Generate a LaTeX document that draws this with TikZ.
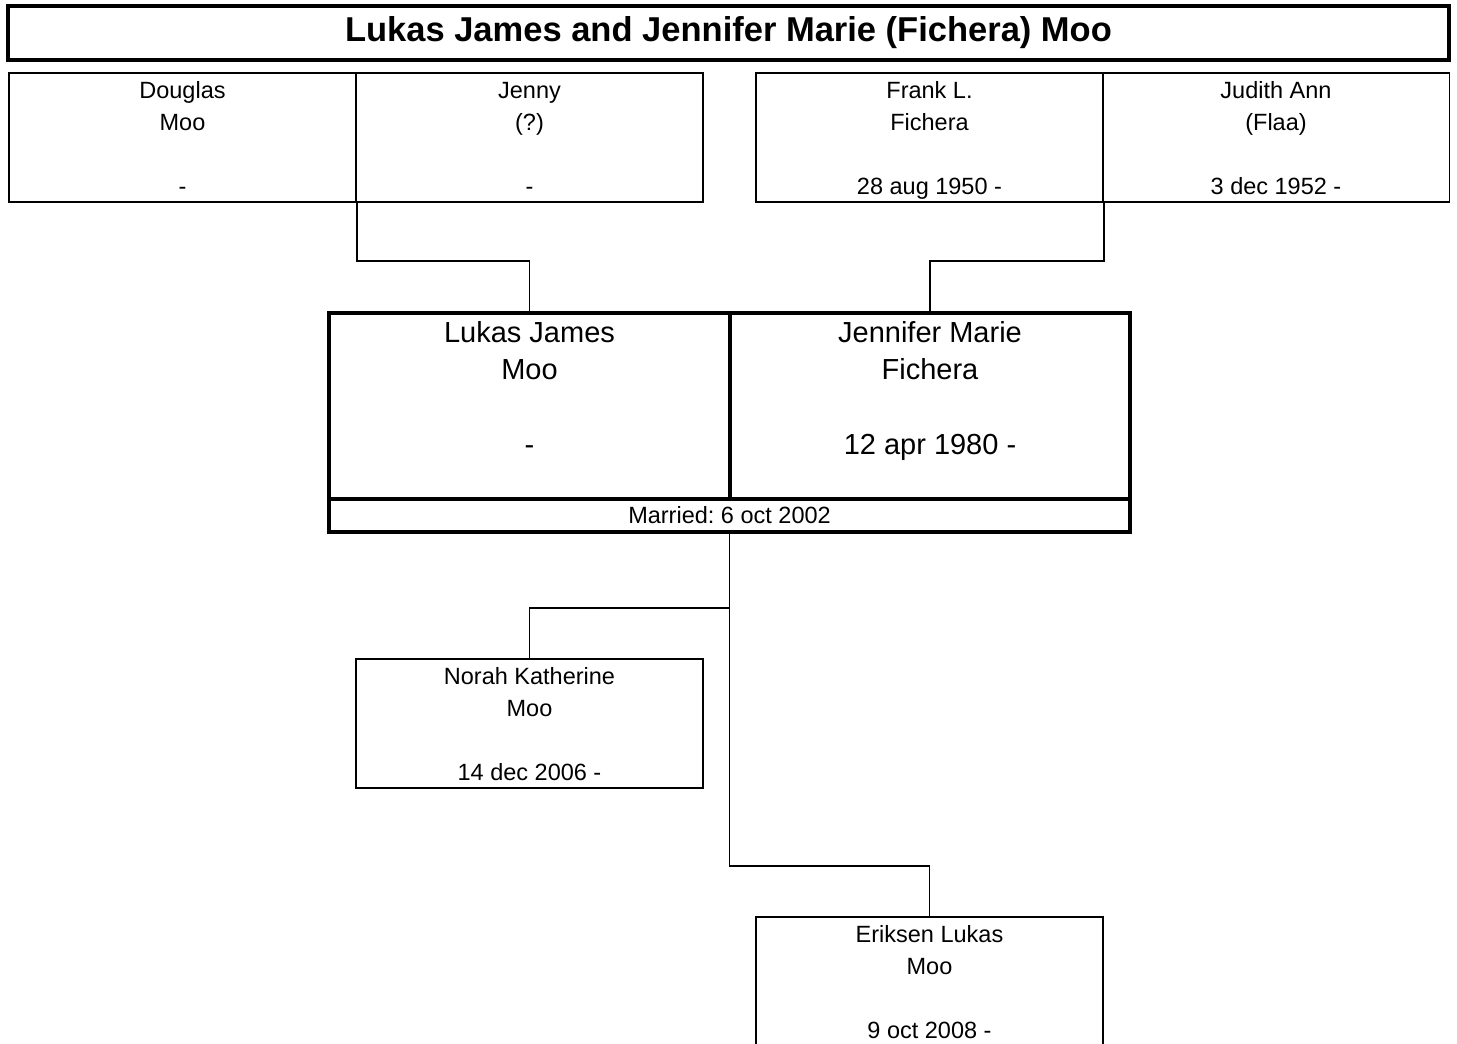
\documentclass[tikz,border=0pt]{standalone}
\usepackage{fontspec}
\setmainfont{Liberation Sans}
\frenchspacing
\newcommand{\headstrut}[1]{\rule{0pt}{#1pt}}
\newcommand{\footstrut}[1]{\rule[-#1pt]{0pt}{0pt}}
\tikzset{
  titlebox/.style  = {draw,line width=3.2pt,inner sep=0pt,minimum width=1441pt,minimum height=54pt,
                      font=\fontsize{34.5}{40}\selectfont\bfseries},
  personbox/.style = {draw,line width=1.6pt,inner sep=0pt,minimum width=347pt,minimum height=129pt,
                      align=center,font=\fontsize{23.5}{32}\selectfont},
  spousebox/.style = {draw,line width=3.2pt,inner sep=0pt,minimum height=186pt,
                      align=center,font=\fontsize{29}{37.5}\selectfont},
  marrbox/.style   = {draw,line width=3.2pt,inner sep=0pt,minimum width=801pt,minimum height=33pt,
                      font=\fontsize{23.5}{28}\selectfont},
  link/.style      = {line width=1.8pt}
}

\begin{document}
\begin{tikzpicture}[x=1pt,y=-1pt]
  \useasboundingbox (0,0) rectangle (1457,1044);
  \node[titlebox] (title) at (728.5,33) {Lukas James and Jennifer Marie (Fichera) Moo};
  % parents
  \node[personbox] (dm) at (182.5,137.5) {\headstrut{25}Douglas\\Moo\\~\\-\footstrut{7}};
  \node[personbox] (jy) at (529.5,137.5) {\headstrut{25}Jenny\\(?)\\~\\-\footstrut{7}};
  \node[personbox] (fl) at (929.5,137.5) {\headstrut{25}Frank L.\\Fichera\\~\\28 aug 1950 -\footstrut{7}};
  \node[personbox] (ja) at (1276,137.5)  {\headstrut{25}Judith Ann\\(Flaa)\\~\\3 dec 1952 -\footstrut{7}};
  % the couple
  \node[spousebox,minimum width=401pt] (lj) at (529.5,406) {\headstrut{29}Lukas James\\Moo\\~\\-\\~\footstrut{7}};
  \node[spousebox,minimum width=400pt] (jm) at (930,406)   {\headstrut{29}Jennifer Marie\\Fichera\\~\\12 apr 1980 -\\~\footstrut{7}};
  \node[marrbox] (marr) at (729.5,515.5) {Married: 6 oct 2002};
  % children
  \node[personbox] (nk) at (529.5,723.5) {\headstrut{25}Norah Katherine\\Moo\\~\\14 dec 2006 -\footstrut{7}};
  \node[personbox] (el) at (929.5,981.5) {\headstrut{25}Eriksen Lukas\\Moo\\~\\9 oct 2008 -\footstrut{7}};

  \draw[link] (dm.south east) -- ++(0,58) -| (lj.north);
  \draw[link] (fl.south east) -- ++(0,58) -| (jm.north);
  \draw[link] (marr.south) -- ++(0,74) -| (nk.north);
  \draw[link] (marr.south) -- ++(0,332) -| (el.north);
\end{tikzpicture}
\end{document}
